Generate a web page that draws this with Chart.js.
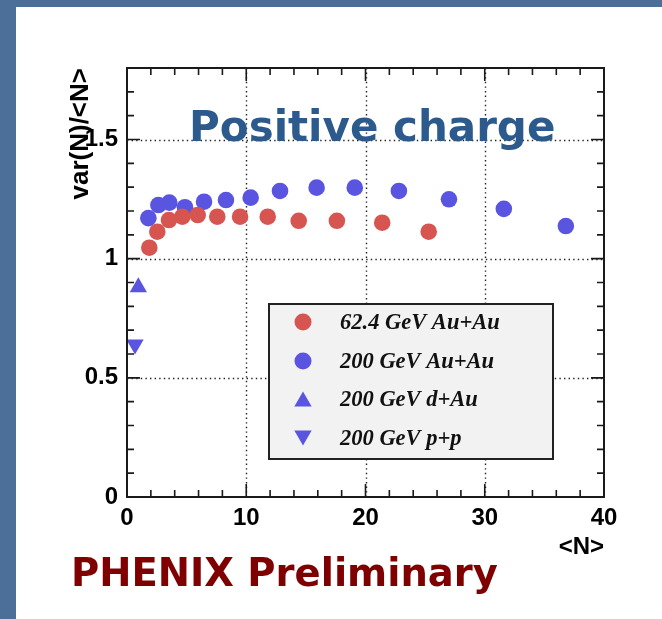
<!DOCTYPE html>
<html>
<head>
<meta charset="utf-8">
<script src="https://cdn.jsdelivr.net/npm/chart.js@4"></script>
<style>
html, body { margin: 0; padding: 0; }
body { width: 662px; height: 619px; background: #4b6f98; position: relative; overflow: hidden; }
#panel { position: absolute; left: 16px; top: 7px; right: 0; bottom: 0; background: #fff; }
#wrap { position: absolute; left: 0; top: 0; width: 662px; height: 619px; }
.lbl { position: absolute; white-space: nowrap; font-family: "DejaVu Sans"; font-weight: bold; }
</style>
</head>
<body>
<div id="panel"></div>
<div id="wrap"><canvas id="chart"></canvas></div>
<div class="lbl" style="left:189px; top:106px; font-size:42px; line-height:42px; color:#2c5a8c;">Positive charge</div>
<div class="lbl" style="left:71px; top:554px; font-size:38.5px; line-height:38.5px; color:#7f0000;">PHENIX Preliminary</div>
<script>
// values
const auau62X = [1.87, 2.54, 3.52, 4.64, 5.93, 7.57, 9.48, 11.8, 14.4, 17.6, 21.4, 25.3];
const auau62Y = [1.046, 1.113, 1.162, 1.176, 1.183, 1.176, 1.176, 1.176, 1.159, 1.159, 1.151, 1.113];

const auau200X = [1.79, 2.63, 3.55, 4.86, 6.46, 8.30, 10.37, 12.83, 15.9, 19.1, 22.8, 27.0, 31.6, 36.8];
const auau200Y = [1.170, 1.225, 1.235, 1.216, 1.239, 1.246, 1.256, 1.284, 1.298, 1.298, 1.284, 1.249, 1.209, 1.137];

const dauX = [0.95];
const dauY = [0.88];
const ppX = [0.67];
const ppY = [0.64];

const seriesLabels = ['62.4 GeV Au+Au', '200 GeV Au+Au', '200 GeV d+Au', '200 GeV p+p'];

const xTicks = [0, 10, 20, 30, 40];
const xTickLabels = ['0', '10', '20', '30', '40'];
const yTicks = [0, 0.5, 1, 1.5];
const yTickLabels = ['0', '0.5', '1', '1.5'];

const RED = '#d75551';
const BLUE = '#5a55e0';

function pts(xs, ys) {
    return xs.map((v, i) => ({ x: v, y: ys[i] }));
}

function marker(ctx, style, rot, r, x, y, color) {
    ctx.fillStyle = color;
    ctx.beginPath();
    if (style === 'circle') {
        ctx.arc(x, y, r, 0, Math.PI * 2);
    } else {
        let a = rot * Math.PI / 180;
        ctx.moveTo(x + Math.sin(a) * r, y - Math.cos(a) * r);
        a += Math.PI * 2 / 3;
        ctx.lineTo(x + Math.sin(a) * r, y - Math.cos(a) * r);
        a += Math.PI * 2 / 3;
        ctx.lineTo(x + Math.sin(a) * r, y - Math.cos(a) * r);
        ctx.closePath();
    }
    ctx.fill();
}

// ROOT style frame: dotted grid, inward ticks on all four sides, boxed legend
const rootFrame = {
    id: 'rootFrame',
    beforeDatasetsDraw(chart) {
        const { ctx, chartArea: a, scales: { x, y } } = chart;
        ctx.save();
        ctx.strokeStyle = '#222';
        ctx.lineWidth = 1.4;
        ctx.setLineDash([1.4, 3.2]);
        ctx.beginPath();
        xTicks.forEach(v => {
            if (v <= x.min || v >= x.max) return;
            const px = Math.round(x.getPixelForValue(v)) + 0.5;
            ctx.moveTo(px, a.top);
            ctx.lineTo(px, a.bottom);
        });
        yTicks.forEach(v => {
            if (v <= y.min || v >= y.max) return;
            const py = Math.round(y.getPixelForValue(v)) + 0.5;
            ctx.moveTo(a.left, py);
            ctx.lineTo(a.right, py);
        });
        ctx.stroke();
        ctx.restore();
    },
    afterDatasetsDraw(chart) {
        const { ctx, chartArea: a, scales: { x, y } } = chart;
        ctx.save();
        ctx.strokeStyle = '#1a1a1a';
        ctx.lineWidth = 1.6;
        ctx.beginPath();
        for (let i = 0; i <= 20; i++) {
            const px = x.getPixelForValue(i * 2);
            const len = i % 5 === 0 ? 13 : 7;
            ctx.moveTo(px, a.bottom); ctx.lineTo(px, a.bottom - len);
            ctx.moveTo(px, a.top); ctx.lineTo(px, a.top + len);
        }
        for (let i = 0; i <= 18; i++) {
            const py = y.getPixelForValue(i / 10);
            const len = i % 5 === 0 ? 13 : 7;
            ctx.moveTo(a.left, py); ctx.lineTo(a.left + len, py);
            ctx.moveTo(a.right, py); ctx.lineTo(a.right - len, py);
        }
        ctx.stroke();
        ctx.lineWidth = 2;
        ctx.strokeRect(a.left, a.top, a.right - a.left, a.bottom - a.top);
        ctx.restore();
    },
    afterDraw(chart) {
        const ctx = chart.ctx;
        ctx.save();
        ctx.fillStyle = '#f2f2f2';
        ctx.fillRect(269, 304, 284, 155);
        ctx.strokeStyle = '#222';
        ctx.lineWidth = 2;
        ctx.strokeRect(269, 304, 284, 155);
        const rows = [322, 361, 399, 438];
        chart.data.datasets.forEach((ds, i) => {
            const r = ds.pointStyle === 'circle' ? 8.5 : 10;
            const dy = ds.pointStyle === 'circle' ? 0 : (ds.rotation ? -2.5 : 2.5);
            marker(ctx, ds.pointStyle, ds.rotation || 0, r, 303, rows[i] + dy, ds.backgroundColor);
            ctx.fillStyle = '#111';
            ctx.font = 'italic bold 22.5px "Liberation Serif"';
            ctx.textBaseline = 'middle';
            ctx.fillText(ds.label, 340, rows[i] + 1);
        });
        ctx.restore();
    }
};

const tickFont = { family: '"Liberation Sans"', weight: 'bold', size: 24 };

new Chart(document.getElementById('chart'), {
    type: 'scatter',
    data: {
        datasets: [
            { label: seriesLabels[0], data: pts(auau62X, auau62Y), pointStyle: 'circle', pointRadius: 8.3, backgroundColor: RED, borderWidth: 0 },
            { label: seriesLabels[1], data: pts(auau200X, auau200Y), pointStyle: 'circle', pointRadius: 8.3, backgroundColor: BLUE, borderWidth: 0 },
            { label: seriesLabels[2], data: pts(dauX, dauY), pointStyle: 'triangle', pointRadius: 10, backgroundColor: BLUE, borderWidth: 0 },
            { label: seriesLabels[3], data: pts(ppX, ppY), pointStyle: 'triangle', rotation: 180, pointRadius: 10, backgroundColor: BLUE, borderWidth: 0 }
        ]
    },
    options: {
        responsive: true,
        maintainAspectRatio: false,
        animation: false,
        layout: { padding: { left: 0, top: 68, right: 58, bottom: 52 } },
        plugins: {
            legend: { display: false },
            tooltip: { enabled: false }
        },
        scales: {
            x: {
                type: 'linear',
                min: 0,
                max: 40,
                afterBuildTicks: s => { s.ticks = xTicks.map(v => ({ value: v })); },
                afterFit: s => { s.height = 70; },
                grid: { display: false, drawTicks: false },
                border: { display: false },
                ticks: {
                    color: '#000',
                    font: tickFont,
                    padding: 7,
                    maxRotation: 0,
                    callback: (v, i) => xTickLabels[i]
                },
                title: {
                    display: true,
                    text: '<N>',
                    align: 'end',
                    color: '#000',
                    font: { family: '"Liberation Sans"', weight: 'bold', size: 24 },
                    padding: { top: 0, bottom: 5 }
                }
            },
            y: {
                min: 0,
                max: 1.8,
                afterBuildTicks: s => { s.ticks = yTicks.map(v => ({ value: v })); },
                afterFit: s => { s.width = 127; },
                grid: { display: false, drawTicks: false },
                border: { display: false },
                ticks: {
                    color: '#000',
                    font: tickFont,
                    padding: 9,
                    callback: (v, i) => yTickLabels[i]
                },
                title: {
                    display: true,
                    text: 'var(N)/<N>',
                    align: 'end',
                    color: '#000',
                    font: { family: '"Liberation Sans"', weight: 'bold', size: 26 },
                    padding: { top: 65, bottom: 0 }
                }
            }
        }
    },
    plugins: [rootFrame]
});
</script>
</body>
</html>
